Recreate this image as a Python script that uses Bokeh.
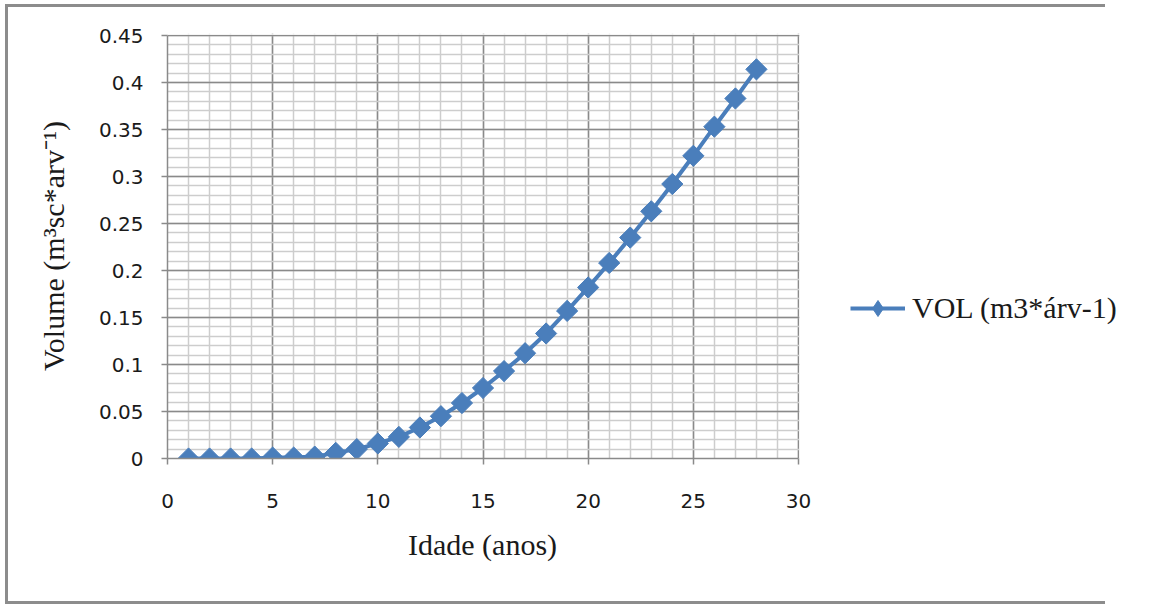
import math
from bokeh.plotting import figure
from bokeh.models import FixedTicker, Legend, LegendItem, BoxAnnotation, Title
from bokeh.embed import file_html
from bokeh.resources import INLINE

# ---- data ----
idade = [1, 2, 3, 4, 5, 6, 7, 8, 9, 10, 11, 12, 13, 14,
         15, 16, 17, 18, 19, 20, 21, 22, 23, 24, 25, 26, 27, 28]
vol = [0.000, 0.000, 0.000, 0.000, 0.001, 0.001, 0.002, 0.006, 0.010, 0.016,
       0.023, 0.033, 0.045, 0.059, 0.075, 0.093, 0.112, 0.133, 0.157, 0.182,
       0.208, 0.235, 0.263, 0.292, 0.322, 0.353, 0.383, 0.414]
series_label = "VOL (m3*árv-1)"
x_title = "Idade (anos)"
y_title = "Volume (m³sc*arv⁻¹)"
x_ticks = [0, 5, 10, 15, 20, 25, 30]
x_tick_labels = ["0", "5", "10", "15", "20", "25", "30"]
y_ticks = [0, 0.05, 0.1, 0.15, 0.2, 0.25, 0.3, 0.35, 0.4, 0.45]
y_tick_labels = ["0", "0.05", "0.1", "0.15", "0.2", "0.25", "0.3", "0.35", "0.4", "0.45"]
x_minor = list(range(0, 31))
y_minor = [i / 100 for i in range(0, 46)]
X_MAX, Y_MAX = 30, 0.45

BLUE = "#4a7ebb"
MAJOR = "#8a8a8a"
MINOR = "#cdcdcd"

W, H = 1151, 605
FL, FR, FT, FB = 167, 798, 35, 458   # pixel box of the plotting area in the reference
TOP_PAD = 2                            # px of frame kept above the top grid line

# The frame is stretched to the right edge so that the legend (right of the plot
# area) is not clipped; the area beyond x=30 / above y=0.45 is masked in white.
x_end = X_MAX * (W - FL) / (FR - FL)
y_end = Y_MAX * (FB - FT + TOP_PAD) / (FB - FT)

p = figure(width=W, height=H, output_backend="svg", toolbar_location=None,
           x_range=(0, x_end), y_range=(0, y_end),
           min_border_left=FL, min_border_right=0,
           min_border_top=FT - TOP_PAD, min_border_bottom=H - FB)
p.background_fill_color = "white"
p.border_fill_color = None
p.outline_line_color = None

# outer chart border drawn as the page element's background (left, top, bottom edges)
line = "linear-gradient(#8c8c8c, #8c8c8c)"
p.styles = {
    "background-color": "white",
    "background-image": f"{line}, {line}, {line}",
    "background-repeat": "no-repeat",
    "background-position": "5px 4px, 5px 4px, 5px 601px",
    "background-size": "3px 600px, 1100px 3px, 1100px 3px",
}

# axes
p.xaxis.ticker = FixedTicker(ticks=x_ticks, minor_ticks=x_minor)
p.yaxis.ticker = FixedTicker(ticks=y_ticks, minor_ticks=y_minor)
p.xaxis.major_label_overrides = {t: l for t, l in zip(x_ticks, x_tick_labels)}
p.yaxis.major_label_overrides = {t: l for t, l in zip(y_ticks, y_tick_labels)}
p.xaxis.bounds = (0, X_MAX)
p.yaxis.bounds = (0, Y_MAX)
for ax in (p.xaxis, p.yaxis):
    ax.axis_line_color = MAJOR
    ax.axis_line_width = 1.5
    ax.major_tick_line_color = MAJOR
    ax.major_tick_line_width = 1.5
    ax.major_tick_in = 0
    ax.major_tick_out = 6
    ax.minor_tick_line_color = None
    ax.major_label_text_font = "DejaVu Sans"
    ax.major_label_text_font_size = "20px"
    ax.major_label_text_color = "#1a1a1a"
    ax.axis_label_text_font = "Liberation Serif"
    ax.axis_label_text_font_size = "30px"
    ax.axis_label_text_font_style = "normal"
    ax.axis_label_text_color = "#1a1a1a"
p.yaxis.axis_label = y_title
p.xaxis.major_label_standoff = 29
p.yaxis.major_label_standoff = 18
p.yaxis.axis_label_standoff = 26

# x-axis title, centred under the plotting area (0..30) rather than the whole frame
xt = Title(text=x_title, align="left", offset=(FL + FR) / 2 - 75 - FL, standoff=31,
           text_font="Liberation Serif", text_font_size="30px",
           text_font_style="normal", text_color="#1a1a1a")
p.add_layout(xt, "below")

# grid
p.xgrid.ticker = p.xaxis.ticker
p.ygrid.ticker = p.yaxis.ticker
p.xgrid.grid_line_color = MAJOR
p.ygrid.grid_line_color = MAJOR
p.xgrid.grid_line_width = 1.5
p.ygrid.grid_line_width = 1.5
p.xgrid.minor_grid_line_color = MINOR
p.ygrid.minor_grid_line_color = MINOR
p.xgrid.minor_grid_line_width = 1.5
p.ygrid.minor_grid_line_width = 1.5
p.xgrid.level = "underlay"
p.ygrid.level = "underlay"

# white masks beyond the plotting area (keep the grid inside 0..30 x 0..0.45)
px_x = x_end / (W - FL)
px_y = y_end / (FB - FT + TOP_PAD)
p.add_layout(BoxAnnotation(left=X_MAX + 0.8 * px_x, fill_color="white", fill_alpha=1,
                           line_alpha=0, level="underlay"))
p.add_layout(BoxAnnotation(bottom=Y_MAX + 0.8 * px_y, fill_color="white", fill_alpha=1,
                           line_alpha=0, level="underlay"))

# series
ln = p.line(idade, vol, line_color=BLUE, line_width=4)
mk = p.scatter(idade, vol, marker="square", angle=math.pi / 4, size=15,
               fill_color=BLUE, line_color=BLUE)
# legend-only glyph (diamond), not shown in the plot itself
mk_leg = p.scatter(idade, vol, marker="diamond", size=18,
                   fill_color=BLUE, line_color=BLUE, visible=False)

legend = Legend(items=[LegendItem(label=series_label, renderers=[ln, mk_leg])],
                location=(850 - FL, FB - 308 - 20),
                glyph_width=55, glyph_height=40, label_height=40,
                label_standoff=7, padding=0, margin=0, spacing=0,
                border_line_color=None, background_fill_alpha=0,
                label_text_font="Liberation Serif", label_text_font_size="30px",
                label_text_color="#1a1a1a")
p.add_layout(legend, "center")

open("out.html", "w").write(file_html(p, INLINE))
